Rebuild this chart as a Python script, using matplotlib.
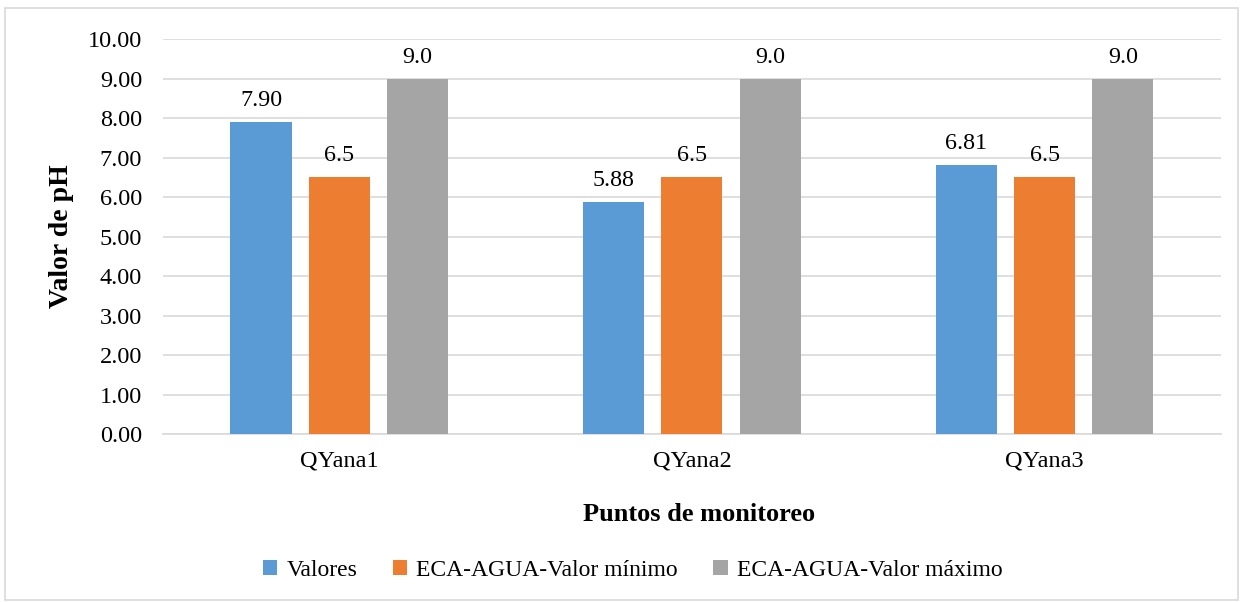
import numpy as np
import matplotlib
matplotlib.use("Agg")
import matplotlib.pyplot as plt
from matplotlib.patches import Rectangle

# data
puntos = ["QYana1", "QYana2", "QYana3"]
valores = [7.90, 5.88, 6.81]
eca_min = [6.5, 6.5, 6.5]
eca_max = [9.0, 9.0, 9.0]

series = ["Valores", "ECA-AGUA-Valor mínimo", "ECA-AGUA-Valor máximo"]
colors = ["#5B9BD5", "#ED7D31", "#A5A5A5"]
fmts = ["%.2f", "%.1f", "%.1f"]

plt.rcParams['font.family'] = ['Liberation Serif', 'DejaVu Serif']

fig = plt.figure(figsize=(12.43, 6.02), dpi=100)
ax = fig.add_axes([0.1311, 0.279, 0.8512, 0.656])

x = np.arange(len(puntos))
width = 0.173
step = 0.222
for i, (vals, c, f) in enumerate(zip([valores, eca_min, eca_max], colors, fmts)):
    bars = ax.bar(x + (i - 1) * step, vals, width, color=c, label=series[i], zorder=3)
    ax.bar_label(bars, labels=[f % v for v in vals], padding=8, fontsize=17.3, color='#000000')

ax.set_xlim(-0.5, 2.5)
ax.set_ylim(0, 10)
ax.set_yticks(np.arange(0, 10.01, 1))
ax.set_yticklabels(["%.2f" % v for v in np.arange(0, 10.01, 1)])
ax.set_xticks(x)
ax.set_xticklabels(puntos)
ax.tick_params(axis='both', length=0, labelsize=17.5)
ax.tick_params(axis='y', pad=15)
ax.tick_params(axis='x', pad=12)
ax.grid(axis='y', color='#D9D9D9', linewidth=1.2, zorder=0)
for s in ['top', 'right', 'left']:
    ax.spines[s].set_visible(False)
ax.spines['bottom'].set_color('#D9D9D9')
ax.spines['bottom'].set_linewidth(1.2)

ax.set_ylabel("Valor de pH", fontsize=20, fontweight='bold', labelpad=10)
fig.text(0.5625, 0.145, "Puntos de monitoreo", fontsize=19, fontweight='bold',
         ha='center', va='center')

fig.legend(loc='center', bbox_to_anchor=(0.509, 0.053), ncol=3, frameon=False,
           fontsize=17, handlelength=0.6, handleheight=0.6, handletextpad=0.4,
           columnspacing=1.5)

fig.patches.append(Rectangle((0.004, 0.003), 0.992, 0.984, transform=fig.transFigure,
                             fill=False, edgecolor='#D9D9D9', linewidth=1.2))

fig.savefig("out.png", dpi=100)
